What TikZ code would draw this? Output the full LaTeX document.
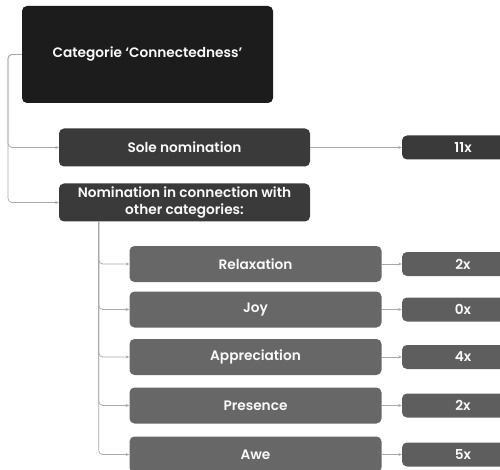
\documentclass[tikz,border=0pt]{standalone}
\usepackage{fontspec}
\setmainfont{Poppins}[BoldFont={Poppins SemiBold}]
\usetikzlibrary{arrows.meta, positioning}

\definecolor{topfill}{HTML}{1C1C1C}
\definecolor{midfill}{HTML}{3A3A3A}
\definecolor{subfill}{HTML}{676767}
\definecolor{valfill}{HTML}{5E5E5E}
\definecolor{linkgray}{HTML}{A8A8A8}

\begin{document}
\begin{tikzpicture}[x=1pt, y=-1pt,
  box/.style={rounded corners=5pt, text=white!95!gray, align=center, inner sep=0pt,
    font=\bfseries\fontsize{13.7}{17}\selectfont},
  topbox/.style={box, fill=topfill, minimum width=251pt, minimum height=97pt},
  midbox/.style={box, fill=midfill, minimum width=251pt, minimum height=38pt},
  subbox/.style={box, fill=subfill, minimum width=252pt, minimum height=36pt},
  valbox/.style={box, fill=valfill, minimum width=122pt, minimum height=24pt},
  link/.style={draw=linkgray, line width=0.7pt, rounded corners=4pt,
    -{Stealth[length=3.5pt, width=3pt]}}]

\useasboundingbox (0,0) rectangle (500,470);
\clip (0,0) rectangle (500,470);

% top level
\node[topbox] (cat) at (147.5,54.5) {Categorie `Connectedness'};
\node[midbox] (sole) at (184.5,147.5) {Sole nomination};
\node[midbox] (combi) at (184.5,202.5) {Nomination in connection with\\other categories:};
\node[valbox, fill=midfill] (soleval) at (463,147.5) {11x};

\coordinate (spine) at (8,54.5);
\draw[link] (cat.west) -- (spine) |- (sole.west);
\draw[link] (cat.west) -- (spine) |- (combi.west);
\draw[link] (sole) -- (soleval);

% sub categories
\coordinate (trunk) at ([xshift=40pt]combi.south west);
\foreach \name/\val/\y [count=\i] in {Relaxation/2x/264, Joy/0x/309.5,
    Appreciation/4x/357, Presence/2x/405.5, Awe/5x/454.5} {
  \node[subbox] (sub\i) at (255.5,\y) {\name};
  \node[valbox] (val\i) at (463,\y) {\val};
  \draw[link] (trunk) |- (sub\i.west);
  \draw[link] (sub\i) -- (val\i);
}

\end{tikzpicture}
\end{document}
